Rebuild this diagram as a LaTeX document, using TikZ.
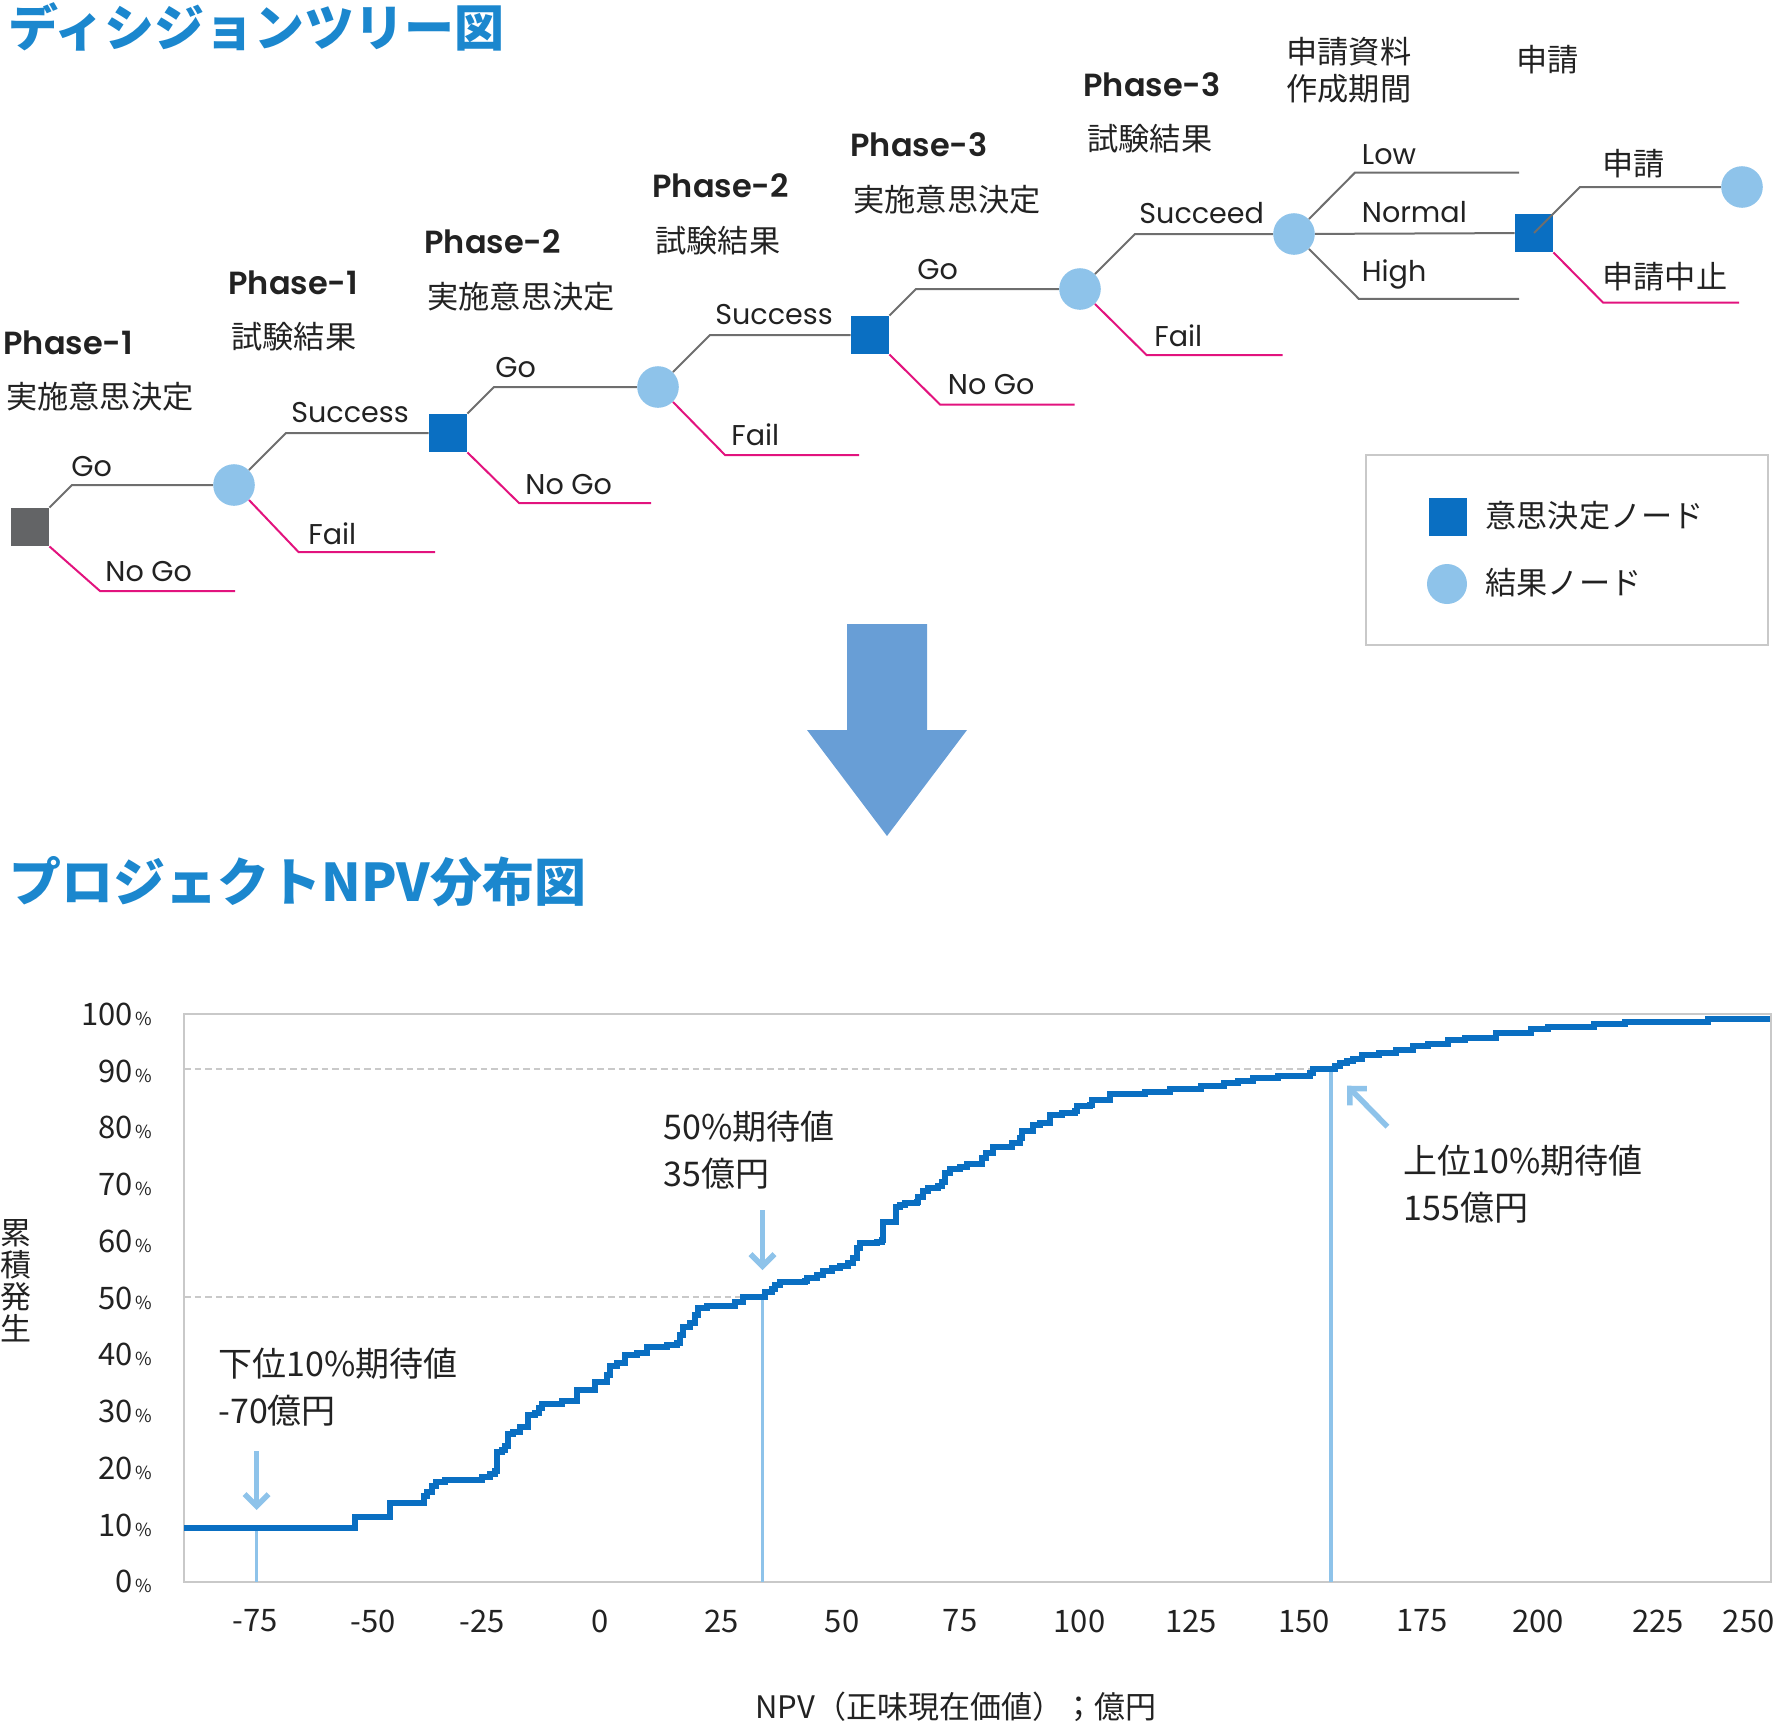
\documentclass[tikz,border=0pt]{standalone}
\usepackage{fontspec}
\setmainfont{Noto Sans CJK JP}
\newfontfamily\popfont{Poppins}[BoldFont={* SemiBold}]
\usetikzlibrary{arrows.meta}
\definecolor{ttlblue}{HTML}{1B87CE}
\definecolor{decblue}{HTML}{0A6FC2}
\definecolor{chblue}{HTML}{8EC3EA}
\definecolor{decgray}{HTML}{636466}
\definecolor{lngray}{HTML}{6E6E6E}
\definecolor{failpink}{HTML}{E2137E}
\definecolor{arwblue}{HTML}{689ED6}
\definecolor{frmgray}{HTML}{C9C9C9}
\definecolor{txtblk}{HTML}{222222}
\begin{document}
\begin{tikzpicture}[x=0.5pt,y=-0.5pt,every node/.style={text=txtblk,inner sep=0pt},
  decnode/.style={rectangle,fill=decblue,minimum size=19pt},
  chnode/.style={circle,fill=chblue,minimum size=20.8pt},
  golink/.style={lngray,line width=1pt},
  faillink/.style={failpink,line width=1pt},
  brlbl/.style={anchor=base west,font=\popfont\fontsize{14.3}{16}\selectfont},
  phlbl/.style={anchor=base west,font=\popfont\bfseries\fontsize{16}{18}\selectfont},
  jplbl/.style={anchor=west,font=\fontsize{15.6}{18.75}\selectfont,align=left},
  annot/.style={anchor=west,font=\fontsize{17}{23.5}\selectfont,align=left},
  tick/.style={font=\fontsize{15.5}{16}\selectfont},
  markarw/.style={chblue,line width=2.75pt,-{Straight Barb[length=6pt,width=12pt]}}]
\useasboundingbox (0,0) rectangle (1779,1724);
% Decision tree
\node[anchor=west,font=\bfseries\fontsize{25}{26}\selectfont,text=ttlblue] (ttl1) at (8,27) {ディシジョンツリー図};
\node[decnode,fill=decgray] (d0) at (30,527) {};
\node[chnode] (c1) at (234,485) {};
\node[decnode] (d1) at (448,433) {};
\node[chnode] (c2) at (658,387) {};
\node[decnode] (d2) at (870,335) {};
\node[chnode] (c3) at (1080,289) {};
\node[chnode] (c4) at (1294,234) {};
\node[decnode] (d3) at (1534,233) {};
\node[chnode] (c5) at (1742,187) {};
% column headers
\node[phlbl] at (3,354) {Phase-1};
\node[jplbl] at (6,397) {実施意思決定};
\node[phlbl] at (228,294.6) {Phase-1};
\node[jplbl] at (231,336.5) {試験結果};
\node[phlbl] at (424,253) {Phase-2};
\node[jplbl] at (427,296.5) {実施意思決定};
\node[phlbl] at (652,197.7) {Phase-2};
\node[jplbl] at (655,241) {試験結果};
\node[phlbl] at (850,156) {Phase-3};
\node[jplbl] at (853,199.6) {実施意思決定};
\node[phlbl] at (1083,96.9) {Phase-3};
\node[jplbl] at (1087,138.3) {試験結果};
\node[jplbl] at (1286,70.3) {申請資料\\作成期間};
\node[jplbl] at (1516,60) {申請};
% branches
\draw[golink] (d0.north east) -- (72,485) -- (c1);
\draw[faillink] (d0.south east) -- (100,591) -- (235,591);
\draw[golink] (c1.north east) -- (286,433) -- (d1);
\draw[faillink] (c1.south east) -- (298.5,552) -- (435,552);
\draw[golink] (d1.north east) -- (494,387) -- (c2);
\draw[faillink] (d1.south east) -- (519,503) -- (651,503);
\draw[golink] (c2.north east) -- (710,335) -- (d2);
\draw[faillink] (c2.south east) -- (725,455) -- (859,455);
\draw[golink] (d2.north east) -- (916,289) -- (c3);
\draw[faillink] (d2.south east) -- (940,404.5) -- (1074.5,404.5);
\draw[golink] (c3.north east) -- (1135,234) -- (c4);
\draw[faillink] (c3.south east) -- (1146.5,355) -- (1282.5,355);
\draw[golink] (c4.north east) -- (1355,172.6) -- (1519,172.6);
\draw[golink] (c4) -- (d3);
\draw[golink] (c4.south east) -- (1358.7,298.8) -- (1519,298.8);
\draw[golink] (d3.center) -- (1580,187) -- (c5);
\draw[faillink] (d3.south east) -- (1603,302.5) -- (1739,302.5);
% branch labels
\node[brlbl] at (71,476.5) {Go};
\node[brlbl] at (105,581) {No Go};
\node[brlbl] at (291,422) {Success};
\node[brlbl] at (308,544) {Fail};
\node[brlbl] at (495,377.6) {Go};
\node[brlbl] at (525,494) {No Go};
\node[brlbl] at (715,324) {Success};
\node[brlbl] at (731,445) {Fail};
\node[brlbl] at (917,279.5) {Go};
\node[brlbl] at (947.5,394) {No Go};
\node[brlbl] at (1139,223.4) {Succeed};
\node[brlbl] at (1154,346) {Fail};
\node[brlbl] at (1361.5,164) {Low};
\node[brlbl] at (1361.5,222) {Normal};
\node[brlbl] at (1361.5,281) {High};
\node[jplbl] at (1602,163.7) {申請};
\node[jplbl] at (1602,276.7) {申請中止};
% Legend
\node[draw=frmgray,line width=1pt,minimum width=201pt,minimum height=95pt] (lgd) at (1567,550) {};
\node[decnode] (lgdd) at (1448,517) {};
\node[chnode,minimum size=20pt] (lgdc) at (1447,584) {};
\node[jplbl] at (1485,516) {意思決定ノード};
\node[jplbl] at (1485,583) {結果ノード};
% Big arrow
\fill[arwblue] (847,624) -- (927,624) -- (927,730) -- (967,730) -- (887,836) -- (807,730) -- (847,730) -- cycle;
% NPV distribution
\node[anchor=west,font=\bfseries\fontsize{26}{27}\selectfont,text=ttlblue] (ttl2) at (9,882) {プロジェクトNPV分布図};
\draw[frmgray,line width=1.25pt] (184,1014) rectangle (1771,1582);
\draw[frmgray,line width=0.8pt,dash pattern=on 3.3pt off 2pt] (184,1297) -- (762.5,1297);
\draw[frmgray,line width=0.8pt,dash pattern=on 3.3pt off 2pt] (184,1069) -- (1331,1069);
\foreach \p in {0,10,...,100}
  \node[tick,anchor=east] at (152,{1581.8-5.676*\p}) {\p\kern1pt{\fontsize{9}{9}\selectfont\%}};
\foreach \v/\px in {-75/255,-50/373,-25/482,0/600,25/721.5,50/842,75/960,100/1079.5,125/1191,150/1304,175/1422,200/1538,225/1658,250/1748.6}
  \node[tick] at (\px,1621) {\v};
\node[font=\fontsize{15.5}{16}\selectfont,align=center] (ytitle) at (16,1281) {累\\積\\発\\生};
\node[font=\fontsize{15.5}{17}\selectfont] (xtitle) at (956,1707) {NPV（正味現在価値）；億円};
% percentile markers
\draw[chblue,line width=1.75pt] (256.6,1528) -- (256.6,1582);
\draw[chblue,line width=1.75pt] (762.5,1297) -- (762.5,1582);
\draw[chblue,line width=1.75pt] (1331,1069) -- (1331,1582);
\draw[markarw] (256.6,1451) -- (256.6,1510);
\draw[markarw] (762.5,1210) -- (762.5,1270);
\draw[markarw] (1387.4,1126.7) -- (1347.2,1085.7);
\node[annot] at (218,1387.5) {下位10\%期待値\\-70億円};
\node[annot] at (663,1150.5) {50\%期待値\\35億円};
\node[annot] at (1403,1184) {上位10\%期待値\\155億円};
% cumulative curve
\draw[decblue,line width=3pt] (184,1528) -| (355,1517) -| (390,1503) -| (424,1496) -| (427,1492)
  -| (432,1486) -| (436,1482) -| (445,1480) -| (482,1477) -| (490,1474) -| (495,1471)
  -| (497,1452) -| (502,1450) -| (505,1446) -| (508,1434) -| (513,1432) -| (520,1427)
  -| (528,1415) -| (535,1413) -| (539,1408) -| (542,1404) -| (562,1401) -| (577,1390)
  -| (595,1382) -| (607,1375) -| (610,1366) -| (617,1363) -| (625,1355) -| (637,1353)
  -| (647,1347) -| (667,1345) -| (677,1343) -| (680,1335) -| (683,1327) -| (690,1323)
  -| (695,1315) -| (698,1308) -| (707,1306) -| (735,1302) -| (743,1297) -| (765,1292)
  -| (772,1289) -| (775,1285) -| (780,1282) -| (805,1281) -| (807,1278) -| (817,1275)
  -| (823,1271) -| (832,1268) -| (840,1266) -| (848,1263) -| (853,1258) -| (857,1248)
  -| (860,1243) -| (877,1242) -| (882,1240) -| (883,1222) -| (896,1207) -| (900,1205)
  -| (905,1203) -| (917,1202) -| (918,1197) -| (923,1191) -| (928,1188) -| (938,1186)
  -| (942,1182) -| (945,1173) -| (950,1169) -| (960,1167) -| (967,1164) -| (982,1158)
  -| (986,1153) -| (993,1147) -| (1012,1143) -| (1020,1138) -| (1022,1131) -| (1033,1125)
  -| (1040,1123) -| (1050,1115) -| (1062,1113) -| (1075,1111) -| (1077,1106) -| (1090,1105)
  -| (1092,1100) -| (1110,1094) -| (1145,1092) -| (1170,1089) -| (1201,1086) -| (1224,1083)
  -| (1238,1081) -| (1253,1078) -| (1278,1076) -| (1310,1073) -| (1313,1069) -| (1335,1066)
  -| (1340,1063) -| (1347,1061) -| (1353,1059) -| (1362,1055) -| (1379,1053) -| (1396,1050)
  -| (1413,1046) -| (1428,1044) -| (1448,1040) -| (1465,1038) -| (1496,1033) -| (1531,1029)
  -| (1548,1027) -| (1594,1024) -| (1625,1022) -| (1708,1019) -- (1770,1019);
\end{tikzpicture}
\end{document}
